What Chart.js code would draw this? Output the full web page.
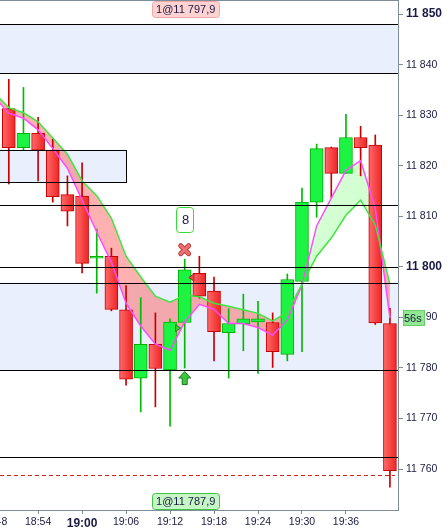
<!DOCTYPE html>
<html>
<head>
<meta charset="utf-8">
<script src="https://cdn.jsdelivr.net/npm/chart.js@4.4.1/dist/chart.umd.min.js"></script>
<style>
  html, body { margin: 0; padding: 0; background: #fff; }
</style>
</head>
<body>
<canvas id="myChart" width="448" height="530"></canvas>
<script>
// candles, 2 minute bars
var times = ["18:50","18:52","18:54","18:56","18:58","19:00","19:02","19:04","19:06","19:08",
  "19:10","19:12","19:14","19:16","19:18","19:20","19:22","19:24","19:26","19:28",
  "19:30","19:32","19:34","19:36","19:38","19:40","19:42"];
var opens  = [11831.3, 11823.6, 11826.4, 11823.1, 11814.3, 11814.0, 11801.7, 11802.1, 11791.5, 11778.0,
  11784.7, 11779.6, 11789.0, 11798.7, 11795.2, 11787.0, 11788.7, 11789.1, 11789.0, 11782.7,
  11797.1, 11812.8, 11823.6, 11818.5, 11825.6, 11824.1, 11788.8];
var highs  = [11837.1, 11835.5, 11829.6, 11825.3, 11818.0, 11820.6, 11807.5, 11803.7, 11796.3, 11793.9,
  11790.9, 11789.7, 11801.5, 11802.1, 11798.0, 11791.7, 11794.6, 11793.2, 11790.9, 11798.6,
  11815.6, 11824.3, 11823.7, 11830.2, 11827.8, 11826.1, 11791.8];
var lows   = [11816.4, 11823.0, 11817.0, 11812.8, 11808.1, 11798.8, 11794.8, 11791.3, 11776.6, 11771.3,
  11772.3, 11768.5, 11780.0, 11793.8, 11781.4, 11778.0, 11783.4, 11778.9, 11780.1, 11781.4,
  11783.2, 11809.8, 11813.7, 11818.5, 11818.0, 11788.6, 11756.4];
var closes = [11823.6, 11826.4, 11823.1, 11813.9, 11811.0, 11800.7, 11802.1, 11791.6, 11777.8, 11784.7,
  11779.9, 11789.1, 11799.4, 11794.2, 11787.2, 11788.8, 11789.7, 11789.7, 11783.2, 11797.5,
  11812.8, 11823.4, 11818.5, 11825.6, 11823.6, 11788.9, 11759.7];

// moving averages (one extra point before the first visible candle)
var maTimes = ["18:48"].concat(times);
var maSlow = [11834.4, 11831.5, 11830.5, 11828.7, 11825.5, 11822.3, 11817.0, 11814.1, 11809.6, 11802.1,
  11798.0, 11794.2, 11793.0, 11794.4, 11794.1, 11792.8, 11792.2, 11791.5, 11790.8, 11789.3,
  11791.0, 11796.6, 11802.1, 11805.7, 11810.2, 11813.2, 11808.3, 11796.6];
var maFast = [11833.6, 11830.4, 11829.4, 11827.1, 11823.4, 11819.5, 11813.2, 11806.9, 11800.9, 11792.8,
  11788.3, 11784.7, 11783.5, 11789.1, 11792.6, 11791.6, 11788.8, 11788.8, 11788.0, 11786.5,
  11789.5, 11796.4, 11808.1, 11813.6, 11819.1, 11821.0, 11811.6, 11789.9];

// levels and zones
var zones = [[11838.3, 11848.0], [11779.5, 11796.9]];
var levels = [11848.0, 11838.3, 11812.2, 11800.0, 11796.9, 11779.5, 11762.3];
var boxLow = 11816.7, boxHigh = 11823.2, boxEnd = "19:06";
var dashedLevel = 11758.8;

// trade / signal
var buyTime = "19:12", buyPrice = 11787.9;
var sellTime = "19:16", sellPrice = 11797.9;
var signalTime = "19:14", signalText = "8";
var signalBoxPrice = 11809.4, crossPrice = 11803.4, arrowPrice = 11778.0;
var timerText = "56s", timerPrice = 11789.9;

var xTickLabels = ["18:48","18:54","19:00","19:06","19:12","19:18","19:24","19:30","19:36"];
var yTicks = [11760, 11770, 11780, 11790, 11800, 11810, 11820, 11830, 11840, 11850];

function toMin(t) { var p = t.split(":"); return Number(p[0]) * 60 + Number(p[1]); }
function fmtPrice(v, dec) {
  var s = v.toFixed(dec || 0).replace(".", ",");
  var whole = s.split(",")[0];
  var rest = s.slice(whole.length);
  return whole.slice(0, whole.length - 3) + " " + whole.slice(-3) + rest;
}

var red = '#ff4242', redLine = '#c80000';
var green = '#1cf444', greenLine = '#00b000';
var axisColor = '#7f8d99';
var textColor = '#1a1a44';
var fontName = "'Liberation Sans', Arial, sans-serif";
var bodyWidth = 13;

var bodyData = times.map(function (t, i) { return { x: toMin(t), y: [opens[i], closes[i]] }; });
var wickData = times.map(function (t, i) { return { x: toMin(t), y: [lows[i], highs[i]] }; });
var upList = times.map(function (t, i) { return closes[i] >= opens[i]; });

// red bodies get a light-to-dark horizontal shading
function bodyFill(c) {
  if (upList[c.dataIndex]) return green;
  var ch = c.chart;
  if (!ch.scales || !ch.scales.x || c.parsed === undefined) return red;
  var px = ch.scales.x.getPixelForValue(c.parsed.x);
  if (!isFinite(px)) return red;
  var g = ch.ctx.createLinearGradient(px - bodyWidth / 2, 0, px + bodyWidth / 2, 0);
  g.addColorStop(0, '#ff6a6a');
  g.addColorStop(1, '#ee2424');
  return g;
}

var overlay = {
  id: 'overlay',
  beforeDraw: function (chart) {
    var c = chart.ctx, a = chart.chartArea, y = chart.scales.y, x = chart.scales.x;
    c.save();
    c.fillStyle = '#e9effc';
    zones.forEach(function (z) {
      var y1 = y.getPixelForValue(z[1]), y2 = y.getPixelForValue(z[0]);
      c.fillRect(a.left, y1, a.right - a.left, y2 - y1);
    });
    var bx = x.getPixelForValue(toMin(boxEnd));
    var b1 = y.getPixelForValue(boxHigh), b2 = y.getPixelForValue(boxLow);
    c.fillRect(a.left, b1, bx - a.left, b2 - b1);
    c.restore();
  },
  afterDatasetsDraw: function (chart) {
    var c = chart.ctx, a = chart.chartArea, y = chart.scales.y, x = chart.scales.x;
    c.save();
    c.beginPath();
    c.rect(a.left, a.top, a.right - a.left, a.bottom - a.top);
    c.clip();
    c.strokeStyle = '#000';
    c.lineWidth = 1;
    levels.forEach(function (v) {
      var py = Math.round(y.getPixelForValue(v)) + 0.5;
      c.beginPath(); c.moveTo(a.left, py); c.lineTo(a.right, py); c.stroke();
    });
    var bx = Math.round(x.getPixelForValue(toMin(boxEnd))) + 0.5;
    var b1 = Math.round(y.getPixelForValue(boxHigh)) + 0.5, b2 = Math.round(y.getPixelForValue(boxLow)) + 0.5;
    c.strokeRect(a.left - 2, b1, bx - a.left + 2, b2 - b1);

    // dashed last price line
    c.strokeStyle = '#d02020';
    c.setLineDash([4, 3]);
    var dy = Math.round(y.getPixelForValue(dashedLevel)) + 0.5;
    c.beginPath(); c.moveTo(a.left, dy); c.lineTo(a.right - 3, dy); c.stroke();
    c.setLineDash([]);

    // trade triangles
    var half = bodyWidth / 2;
    var bxp = x.getPixelForValue(toMin(buyTime)) + half, byp = y.getPixelForValue(buyPrice);
    c.fillStyle = '#3cc83c'; c.strokeStyle = '#1a8a1a';
    c.beginPath(); c.moveTo(bxp + 4, byp); c.lineTo(bxp - 1, byp - 3.5); c.lineTo(bxp - 1, byp + 3.5); c.closePath();
    c.fill(); c.stroke();
    var sxp = x.getPixelForValue(toMin(sellTime)) - half, syp = y.getPixelForValue(sellPrice);
    c.fillStyle = '#e85050'; c.strokeStyle = '#b02020';
    c.beginPath(); c.moveTo(sxp - 4, syp); c.lineTo(sxp + 1, syp - 3.5); c.lineTo(sxp + 1, syp + 3.5); c.closePath();
    c.fill(); c.stroke();

    // signal marks
    var sx = x.getPixelForValue(toMin(signalTime));
    var sb = y.getPixelForValue(signalBoxPrice);
    c.fillStyle = '#fff'; c.strokeStyle = '#33dd33'; c.lineWidth = 1;
    c.beginPath(); c.roundRect(Math.round(sx - 8.5) + 0.5, Math.round(sb - 12.5) + 0.5, 17, 25, 3); c.fill(); c.stroke();
    c.fillStyle = textColor; c.font = "13px " + fontName; c.textAlign = 'center'; c.textBaseline = 'middle';
    c.fillText(signalText, sx + 1, sb + 1);

    var cy = y.getPixelForValue(crossPrice);
    c.lineCap = 'round';
    c.strokeStyle = '#b84040'; c.lineWidth = 5;
    c.beginPath(); c.moveTo(sx - 4, cy - 4); c.lineTo(sx + 4, cy + 4); c.moveTo(sx + 4, cy - 4); c.lineTo(sx - 4, cy + 4); c.stroke();
    c.strokeStyle = '#f07070'; c.lineWidth = 3;
    c.beginPath(); c.moveTo(sx - 4, cy - 4); c.lineTo(sx + 4, cy + 4); c.moveTo(sx + 4, cy - 4); c.lineTo(sx - 4, cy + 4); c.stroke();
    c.lineCap = 'butt';

    var ay = y.getPixelForValue(arrowPrice);
    c.fillStyle = '#3cc83c'; c.strokeStyle = '#1a7a1a'; c.lineWidth = 1;
    c.beginPath();
    c.moveTo(sx, ay - 6.5); c.lineTo(sx + 6, ay); c.lineTo(sx + 2.5, ay); c.lineTo(sx + 2.5, ay + 6.5);
    c.lineTo(sx - 2.5, ay + 6.5); c.lineTo(sx - 2.5, ay); c.lineTo(sx - 6, ay); c.closePath();
    c.fill(); c.stroke();
    c.restore();
  },
  afterDraw: function (chart) {
    var c = chart.ctx, a = chart.chartArea, y = chart.scales.y, x = chart.scales.x;
    c.save();
    c.strokeStyle = axisColor; c.lineWidth = 1;
    c.beginPath(); c.moveTo(a.left, 0.5); c.lineTo(a.right + 1, 0.5); c.stroke();

    function tag(text, cx, top, fill, border) {
      c.font = "11px " + fontName;
      var w = c.measureText(text).width + 8;
      c.fillStyle = fill; c.strokeStyle = border;
      c.beginPath(); c.roundRect(Math.round(cx - w / 2) + 0.5, top + 0.5, Math.round(w), 16, 3); c.fill(); c.stroke();
      c.fillStyle = textColor; c.textAlign = 'center'; c.textBaseline = 'middle';
      c.fillText(text, cx, top + 9);
    }
    var tx = x.getPixelForValue(toMin(signalTime)) + 1;
    tag("1@" + fmtPrice(sellPrice, 1), tx, 1, '#ffd2d2', '#f0a8a8');
    tag("1@" + fmtPrice(buyPrice, 1), tx, a.bottom - 17, '#c6f5c6', '#44c044');

    var ty = Math.round(y.getPixelForValue(timerPrice));
    c.fillStyle = '#92e892'; c.strokeStyle = '#6acc6a';
    c.fillRect(a.right + 5, ty - 8, 22, 16);
    c.strokeRect(a.right + 5.5, ty - 7.5, 21, 15);
    c.fillStyle = textColor; c.font = "11px " + fontName; c.textAlign = 'left'; c.textBaseline = 'middle';
    c.fillText(timerText, a.right + 6, ty + 1);
    c.restore();
  }
};

var ctx1 = document.getElementById("myChart");

const config = {
  data: {
    datasets: [
      {
        type: 'line', label: 'MA slow', data: maTimes.map(function (t, i) { return { x: toMin(t), y: maSlow[i] }; }),
        borderColor: '#3ee63e', borderWidth: 1.5, pointRadius: 0, tension: 0, order: 0, fill: false
      },
      {
        type: 'line', label: 'MA fast', data: maTimes.map(function (t, i) { return { x: toMin(t), y: maFast[i] }; }),
        borderColor: '#ff4cff', borderWidth: 1.5, pointRadius: 0, tension: 0, order: 0,
        fill: { target: 0, above: 'rgba(110,255,110,0.30)', below: 'rgba(255,90,90,0.48)' }
      },
      {
        type: 'bar', label: 'body', data: bodyData, grouped: false, barThickness: bodyWidth,
        backgroundColor: bodyFill,
        borderColor: upList.map(function (u) { return u ? greenLine : redLine; }),
        borderWidth: 1, borderSkipped: false, order: 1
      },
      {
        type: 'bar', label: 'wick', data: wickData, grouped: false, barThickness: 1,
        backgroundColor: upList.map(function (u) { return u ? '#00bb00' : redLine; }),
        borderWidth: 0, order: 2
      }
    ]
  },
  options: {
    responsive: false,
    animation: false,
    layout: { padding: { top: 1, left: 0, right: 0, bottom: 0 } },
    plugins: {
      legend: { display: false },
      tooltip: { enabled: false },
      filler: { drawTime: 'beforeDatasetsDraw' }
    },
    scales: {
      x: {
        type: 'linear', position: 'bottom', offset: false,
        min: toMin("18:48") + 0.8, max: toMin("19:42") + 1.1,
        grid: { display: true, offset: false, drawOnChartArea: false, drawTicks: true, tickLength: 4, color: axisColor },
        border: { display: true, color: axisColor },
        ticks: {
          autoSkip: false, maxRotation: 0, padding: 2, color: textColor,
          font: function (c) {
            return (c.tick && c.tick.value % 60 === 0) ? { family: fontName, size: 12, weight: 'bold' } : { family: fontName, size: 10.5 };
          },
          callback: function (v, i) { return xTickLabels[i]; }
        },
        afterBuildTicks: function (s) { s.ticks = xTickLabels.map(function (t) { return { value: toMin(t) }; }); },
        afterFit: function (s) { s.height = 20; s.paddingLeft = 0; s.paddingRight = 0; }
      },
      y: {
        type: 'linear', position: 'right',
        min: 11751.9, max: 11852.6,
        grid: { display: true, drawOnChartArea: false, drawTicks: true, tickLength: 5, color: axisColor },
        border: { display: true, color: axisColor },
        ticks: {
          padding: 3, color: textColor,
          font: function (c) {
            return (c.tick && c.tick.value % 50 === 0) ? { family: fontName, size: 12, weight: 'bold' } : { family: fontName, size: 10.5 };
          },
          callback: function (v) { return fmtPrice(v); }
        },
        afterBuildTicks: function (s) { s.ticks = yTicks.map(function (v) { return { value: v }; }); },
        afterFit: function (s) { s.width = 50; s.paddingTop = 0; s.paddingBottom = 0; }
      }
    }
  },
  plugins: [overlay]
};
const myChart = new Chart(ctx1, config);
</script>
</body>
</html>
